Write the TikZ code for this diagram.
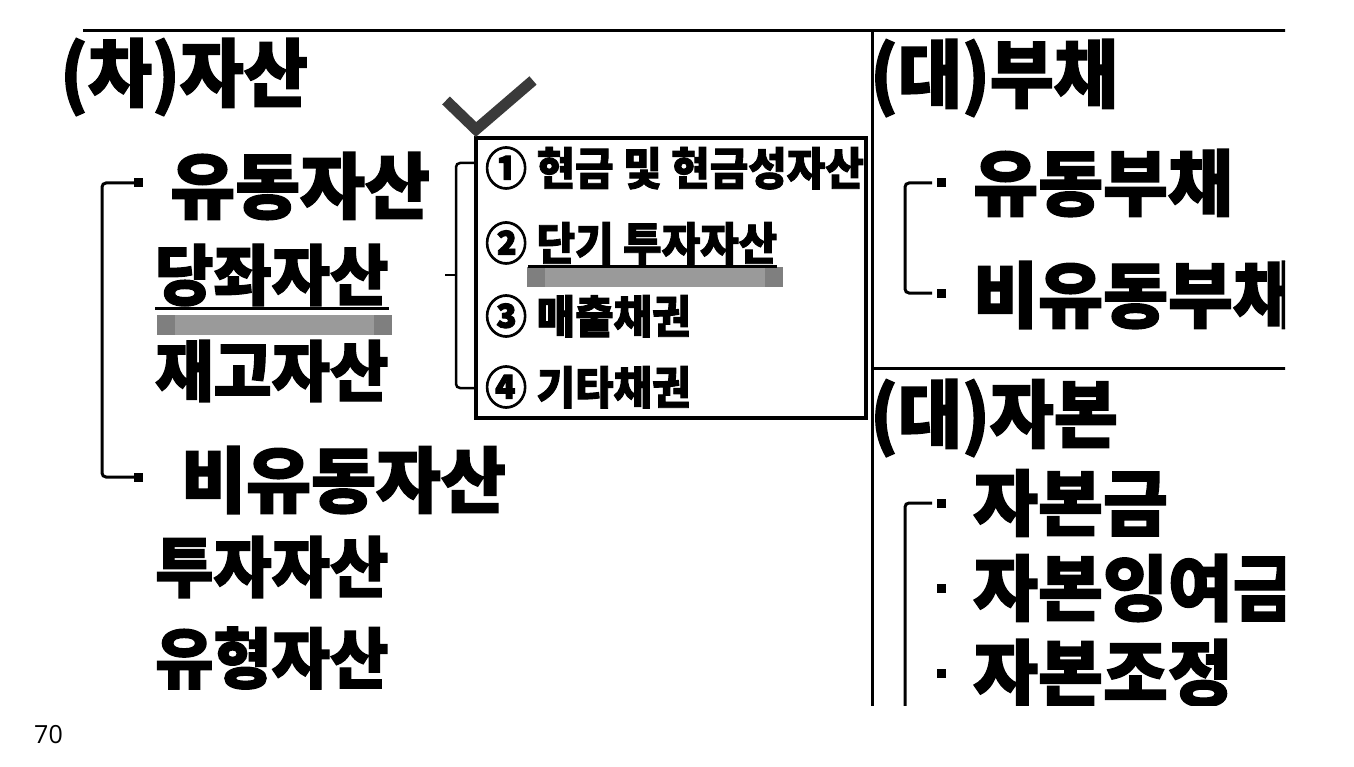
\documentclass[tikz,border=0pt]{standalone}
\usepackage{fontspec}
\usepackage{xcolor}
\usepackage{tikz}
\usetikzlibrary{positioning,calc}

\newfontfamily\krfont{Noto Sans CJK KR}[BoldFeatures={FakeBold=2}]
\newfontfamily\pagefont{Open Sans}
\definecolor{barmid}{HTML}{9A9A9A}
\definecolor{barend}{HTML}{7F7F7F}
\definecolor{chk}{HTML}{3A3A3A}

\begin{document}
\begin{tikzpicture}[
    x=1pt, y=-1pt,
    ttl/.style={anchor=west, inner sep=0, font=\krfont\bfseries\addfontfeature{FakeStretch=0.94}\fontsize{74}{74}\selectfont},
    hd/.style={anchor=west, inner sep=0, font=\krfont\bfseries\addfontfeature{FakeStretch=0.98}\fontsize{72}{72}\selectfont},
    sb/.style={anchor=west, inner sep=0, font=\krfont\bfseries\addfontfeature{FakeStretch=0.96}\fontsize{66}{66}\selectfont},
    it/.style={anchor=west, inner sep=0, font=\krfont\bfseries\addfontfeature{FakeStretch=0.93}\fontsize{45}{45}\selectfont},
    bul/.style={fill, inner sep=0, minimum size=9pt},
    sepline/.style={line width=3pt},
    brk/.style={line width=3pt, rounded corners=4pt},
    uline/.style={line width=3pt}
]
    \fill[white] (0,0) rectangle (1354,767);
    \useasboundingbox (0,0) rectangle (1354,767);

    \begin{scope}
    \clip (0,0) rectangle (1285,705);

    % frame
    \coordinate (tl) at (83,31);
    \coordinate (tr) at (1290,31);
    \coordinate (mt) at (872,31);
    \coordinate (mb) at (872,712);
    \coordinate (ml) at (872,368);
    \coordinate (mr) at (1290,368);
    \draw[sepline] (tl) -- (tr);
    \draw[sepline] (mt) -- (mb);
    \draw[sepline] (ml) -- (mr);

    % assets
    \node[ttl] (cha) at (60,77) {(차)자산};
    \node[bul] (b1) at (138,183) {};
    \node[hd] (yudong) at (170,186) {유동자산};
    \node[sb] (dangja) at (155,275) {당좌자산};
    \node[sb] (jaego) at (155,371) {재고자산};
    \node[bul] (b2) at (138,477) {};
    \node[hd] (biyudong) at (181,480) {비유동자산};
    \node[sb] (tuja) at (155,567) {투자자산};
    \node[sb] (yuhyeong) at (155,658) {유형자산};
    \draw[brk] (b1.center) -- ++(-36,0) |- (b2.center);
    \draw[uline] ([yshift=-2pt]dangja.south west) -- ([yshift=-2pt]dangja.south east);

    \foreach \xa/\xb/\yy in {157/392/315, 527/783/267} {
        \fill[barmid] (\xa,\yy) rectangle (\xb,\yy+20);
        \fill[barend] (\xa,\yy) rectangle (\xa+18,\yy+20);
        \fill[barend] (\xb-18,\yy) rectangle (\xb,\yy+20);
    }

    % current assets box
    \node[draw, line width=4pt, minimum width=390pt, minimum height=279pt, inner sep=0] (cabox) at (671,278) {};
    \node[it] (c1) at (485,168) {① 현금 및 현금성자산};
    \node[it] (c2) at (485,243) {② 단기 투자자산};
    \node[it] (c3) at (485,316) {③ 매출채권};
    \node[it] (c4) at (485,387) {④ 기타채권};
    \draw[uline, line width=2.5pt] ([xshift=43pt, yshift=-2pt]c2.south west) -- ([yshift=-2pt]c2.south east);
    \draw[brk, line width=2.5pt] ($(cabox.west)+(0,-115)$) -- ++(-18,0) -- ++(0,225) -- ++(18,0);
    \draw[brk, line width=2.5pt] ($(cabox.west)+(-17,-3)$) -- ++(-12,0);
    \draw[chk, line width=11pt] ($(cabox.north west)+(-28,-36)$) -- ($(cabox.north west)+(2,-7)$) -- ($(cabox.north west)+(59,-56)$);

    % liabilities
    \node[ttl] (dae1) at (870,78) {(대)부채};
    \node[bul] (b3) at (941,183) {};
    \node[hd] (yudongbu) at (973,183) {유동부채};
    \node[bul] (b4) at (941,293) {};
    \node[hd] (biyudongbu) at (973,295) {비유동부채};
    \draw[brk, shorten <=9pt, shorten >=9pt] (b3.center) -- ++(-36,0) |- (b4.center);

    % equity
    \node[ttl] (dae2) at (870,418) {(대)자본};
    \node[bul] (b5) at (941,503) {};
    \node[hd] (jabon) at (973,503) {자본금};
    \node[bul] (b6) at (941,588) {};
    \node[hd] (ingyeo) at (973,588) {자본잉여금};
    \node[bul] (b7) at (941,673) {};
    \node[hd] (jojeong) at (973,673) {자본조정};
    \coordinate (capend) at (905,712);
    \draw[brk, shorten <=9pt] (b5.center) -| (capend);
    \end{scope}

    \node[anchor=west, inner sep=0, font=\pagefont\fontsize{25}{25}\selectfont] (pg) at (34,735) {70};
\end{tikzpicture}
\end{document}
